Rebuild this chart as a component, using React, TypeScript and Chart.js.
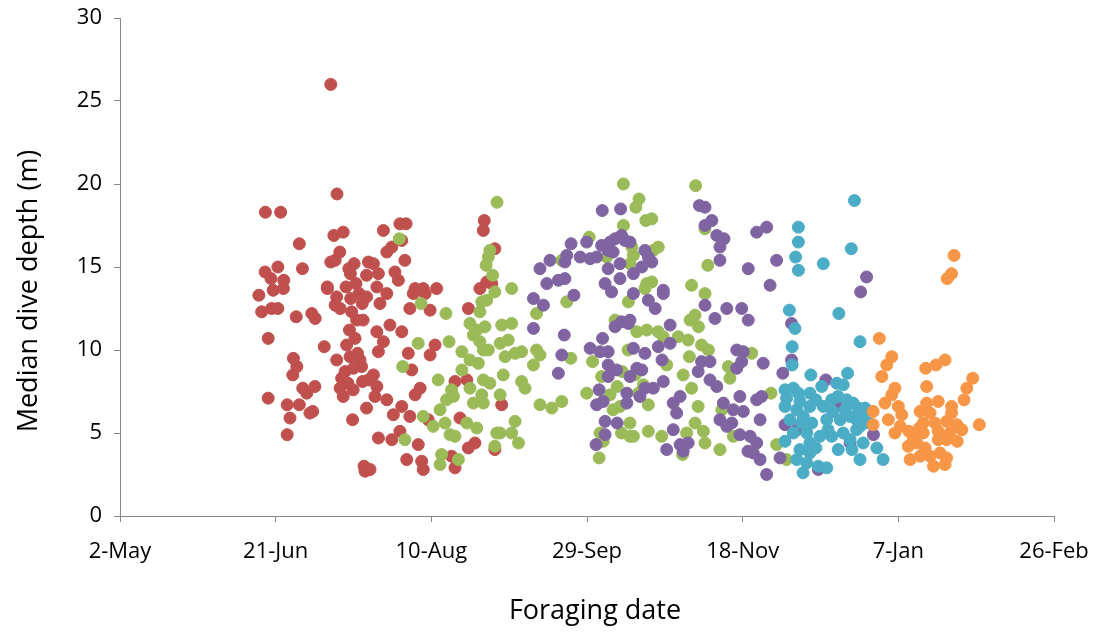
import React, { useEffect, useRef } from "react";
import { Chart, registerables } from "chart.js";

Chart.register(...registerables);

// x = days since 2-May, y = median dive depth (m)
const xTickLabels = ["2-May", "21-Jun", "10-Aug", "29-Sep", "18-Nov", "7-Jan", "26-Feb"];
const xTickStep = 50;
const yMin = 0;
const yMax = 30;
const yStep = 5;
const xTitle = "Foraging date";
const yTitle = "Median dive depth (m)";

const redSeries: [number, number][] = [
  [67.7, 26.0], [69.7, 19.4], [46.7, 18.3], [51.6, 18.3], [57.6, 16.4], [68.7, 16.9], [71.7, 17.1], [70.6, 15.9],
  [67.7, 15.3], [69.1, 15.4], [46.6, 14.7], [50.7, 15.0], [58.6, 14.9], [48.5, 14.3], [52.6, 14.2], [66.6, 13.8],
  [79.8, 15.3], [79.2, 14.5], [44.6, 13.3], [49.2, 13.6], [52.5, 13.7], [45.5, 12.3], [48.7, 12.5], [50.7, 12.5],
  [56.6, 12.0], [61.6, 12.2], [62.7, 11.9], [66.6, 13.7], [69.6, 13.2], [69.1, 12.7], [70.7, 12.5], [74.4, 12.3],
  [76.0, 11.8], [78.1, 11.8], [79.2, 13.2], [47.6, 10.7], [65.6, 10.2], [69.6, 9.4], [73.7, 11.2], [75.5, 10.7],
  [72.8, 10.3], [73.9, 9.6], [77.1, 9.4], [77.6, 9.0], [55.7, 9.5], [56.8, 9.0], [55.5, 8.5], [72.3, 8.7],
  [71.2, 8.3], [70.7, 7.7], [74.9, 7.6], [71.7, 7.2], [79.8, 8.2], [58.7, 7.7], [60.0, 7.4], [62.6, 7.8],
  [47.6, 7.1], [53.7, 6.7], [57.6, 6.7], [54.6, 5.9], [61.0, 6.2], [61.9, 6.3], [53.7, 4.9], [74.7, 5.8],
  [79.2, 6.5], [78.4, 3.0], [78.7, 2.7], [84.6, 17.2], [89.9, 17.6], [91.9, 17.6], [90.5, 16.6], [87.3, 16.2],
  [85.7, 15.9], [91.5, 15.4], [117.0, 17.8], [116.7, 17.2], [120.4, 16.1], [117.8, 14.1], [81.4, 15.2], [83.0, 14.6],
  [88.3, 14.7], [89.4, 14.2], [94.8, 13.7], [97.4, 13.7], [101.7, 13.7], [115.6, 13.7], [82.5, 13.8], [85.7, 13.4],
  [83.5, 12.8], [94.2, 13.4], [98.0, 13.4], [93.1, 12.5], [99.6, 12.4], [111.9, 12.5], [119.4, 14.0], [82.5, 11.1],
  [86.7, 11.5], [90.5, 11.1], [84.6, 10.5], [83.0, 9.9], [101.2, 10.3], [99.6, 9.7], [92.6, 9.8], [93.7, 8.8],
  [107.6, 8.1], [111.4, 8.2], [81.4, 8.5], [82.5, 7.8], [96.4, 7.7], [94.8, 7.3], [81.9, 7.2], [85.7, 7.0],
  [90.5, 6.6], [87.8, 6.1], [93.1, 6.0], [99.0, 5.8], [109.2, 5.9], [83.0, 4.7], [87.3, 4.6], [89.9, 5.1],
  [95.8, 4.3], [92.1, 3.4], [96.9, 3.3], [97.4, 2.8], [106.5, 3.6], [107.6, 2.9], [111.9, 4.1], [114.0, 4.4],
  [120.4, 4.0], [80.3, 2.8], [122.6, 6.7], [74.0, 14.6], [75.8, 14.0], [72.6, 13.8], [76.8, 13.4], [73.5, 14.9],
  [75.2, 15.2], [77.8, 12.8], [74.1, 13.1], [76.3, 9.8], [75.0, 8.9], [77.9, 8.1], [73.2, 8.0],
];

const greenSeries: [number, number][] = [
  [121.1, 18.9], [89.7, 16.7], [118.8, 16.0], [118.3, 15.6], [117.6, 15.1], [119.7, 14.5], [96.7, 12.8], [104.7, 12.2],
  [116.2, 12.9], [117.8, 13.0], [120.4, 13.5], [115.6, 12.3], [95.8, 10.4], [105.7, 10.5], [112.4, 11.6], [114.6, 11.2],
  [117.2, 11.4], [113.5, 10.9], [109.8, 9.9], [116.7, 10.0], [115.6, 10.5], [118.3, 10.0], [112.4, 9.4], [115.1, 9.2],
  [109.8, 8.8], [90.8, 9.0], [102.2, 8.2], [116.7, 8.2], [118.8, 8.0], [106.5, 7.6], [104.9, 7.0], [107.1, 7.2],
  [112.4, 7.7], [113.5, 6.8], [116.7, 6.8], [116.2, 7.3], [97.4, 6.0], [102.8, 6.4], [100.6, 5.4], [104.4, 5.6],
  [111.4, 5.6], [114.6, 5.3], [106.0, 4.9], [107.6, 4.8], [91.5, 4.6], [103.3, 3.7], [102.8, 3.1], [108.7, 3.4],
  [121.0, 5.0], [120.4, 4.2], [161.7, 20.0], [161.7, 17.5], [150.7, 16.8], [141.9, 15.4], [156.3, 15.6], [125.8, 13.7],
  [133.8, 12.2], [143.5, 12.9], [163.3, 12.9], [125.8, 11.6], [122.6, 11.5], [124.7, 10.6], [122.1, 10.4], [123.7, 9.6],
  [126.9, 9.8], [129.0, 9.9], [133.8, 10.0], [134.9, 9.7], [132.8, 9.1], [144.8, 9.5], [151.8, 9.3], [154.7, 8.4],
  [123.1, 8.5], [129.0, 8.1], [130.1, 7.7], [149.9, 7.4], [159.7, 7.8], [134.9, 6.7], [138.7, 6.5], [141.9, 6.9],
  [158.4, 6.4], [160.6, 6.6], [122.1, 7.3], [126.9, 5.7], [125.8, 5.0], [128.0, 4.4], [122.1, 5.0], [154.2, 5.0],
  [155.2, 4.5], [161.1, 5.0], [163.8, 4.8], [153.9, 3.5], [184.9, 19.9], [166.7, 19.1], [165.7, 18.6], [168.9, 17.8],
  [170.8, 17.9], [187.9, 17.3], [164.4, 16.2], [164.9, 15.7], [163.8, 15.2], [172.9, 16.2], [171.3, 16.0], [188.8, 15.1],
  [183.6, 13.9], [169.2, 14.0], [170.8, 14.1], [168.6, 13.7], [187.9, 13.4], [184.7, 12.1], [185.8, 11.4], [183.1, 11.8],
  [166.0, 11.1], [169.2, 11.2], [172.9, 11.1], [174.5, 10.8], [179.3, 10.8], [182.5, 10.6], [186.8, 10.3], [189.0, 10.0],
  [182.9, 9.6], [175.6, 9.1], [195.4, 9.0], [195.9, 8.3], [202.9, 9.8], [180.9, 8.5], [183.6, 7.7], [168.1, 7.9],
  [166.5, 7.4], [169.7, 6.7], [185.7, 6.6], [193.3, 6.4], [163.8, 5.6], [164.9, 4.8], [169.7, 5.1], [174.0, 4.8],
  [182.0, 5.0], [184.7, 5.6], [187.4, 5.1], [187.9, 4.4], [180.7, 3.7], [192.7, 4.0], [197.0, 4.8], [209.1, 7.4],
  [214.1, 3.4], [210.9, 4.3], [159.0, 11.8], [163.2, 10.0], [161.3, 8.7], [157.4, 7.3], [165.4, 8.5],
];

const purpleSeries: [number, number][] = [
  [154.9, 18.4], [160.8, 18.5], [144.9, 16.4], [149.9, 16.5], [154.7, 16.3], [157.4, 16.5], [159.0, 16.7], [161.1, 16.9],
  [162.2, 16.6], [143.5, 15.7], [147.8, 15.6], [151.0, 15.5], [153.1, 15.6], [138.1, 15.4], [134.9, 14.9], [142.9, 15.3],
  [156.8, 16.0], [158.4, 15.9], [160.6, 15.2], [156.8, 14.9], [137.1, 14.0], [140.8, 14.2], [142.9, 14.3], [155.8, 14.0],
  [160.6, 14.3], [132.8, 13.1], [136.0, 12.7], [145.8, 13.3], [157.9, 13.5], [132.8, 11.3], [142.7, 10.9], [159.0, 11.4],
  [161.1, 11.7], [163.3, 11.6], [141.9, 9.7], [140.8, 8.6], [151.0, 10.1], [154.2, 9.9], [156.8, 9.9], [155.0, 10.7],
  [156.8, 9.1], [159.5, 8.8], [156.8, 8.4], [153.9, 7.6], [153.1, 6.7], [155.2, 6.9], [162.8, 7.4], [162.8, 6.8],
  [155.8, 5.7], [159.7, 5.6], [155.8, 4.9], [152.9, 4.3], [186.1, 18.7], [187.9, 18.6], [190.1, 17.8], [187.9, 17.5],
  [191.7, 16.9], [194.0, 16.7], [192.7, 16.2], [204.5, 17.1], [163.8, 16.5], [168.6, 16.0], [169.7, 15.6], [170.8, 15.3],
  [167.6, 15.0], [164.9, 14.6], [192.7, 15.4], [201.8, 14.9], [174.5, 13.6], [164.9, 13.4], [169.7, 13.0], [171.9, 12.5],
  [174.5, 13.4], [187.9, 12.7], [194.9, 12.5], [191.1, 11.9], [199.7, 12.5], [201.8, 11.8], [176.7, 11.5], [163.8, 11.8],
  [164.9, 10.1], [168.6, 9.8], [172.9, 10.2], [176.7, 10.4], [174.1, 9.4], [186.8, 9.3], [189.5, 9.3], [185.7, 8.7],
  [198.1, 10.0], [200.2, 9.9], [198.1, 8.9], [199.7, 9.3], [166.0, 8.9], [167.6, 8.8], [163.8, 8.4], [189.5, 8.2],
  [191.7, 7.8], [168.6, 7.7], [171.3, 7.7], [174.5, 8.1], [167.0, 7.2], [179.9, 7.2], [177.7, 6.8], [178.8, 6.2],
  [193.8, 6.8], [199.1, 7.2], [200.2, 6.3], [197.0, 6.4], [204.5, 7.0], [192.7, 5.8], [194.9, 5.4], [196.5, 5.6],
  [199.1, 4.9], [202.4, 4.8], [204.5, 4.4], [177.7, 5.2], [175.6, 4.0], [179.9, 4.3], [182.5, 4.4], [180.9, 3.9],
  [203.4, 3.8], [207.7, 17.4], [210.9, 15.4], [239.8, 14.4], [208.8, 13.9], [237.9, 13.5], [215.7, 11.6], [215.7, 9.4],
  [206.6, 9.2], [212.9, 8.6], [226.7, 8.2], [206.1, 7.2], [213.6, 5.5], [217.4, 5.2], [212.0, 3.5], [207.7, 2.5],
  [205.6, 3.4], [224.3, 2.8], [242.0, 4.9], [230.2, 6.6], [234.5, 4.4], [205.6, 5.8], [201.7, 3.9],
];

const cyanSeries: [number, number][] = [
  [235.9, 19.0], [217.9, 17.4], [217.9, 16.5], [217.0, 15.6], [217.9, 14.8], [225.9, 15.2], [234.9, 16.1], [215.0, 12.4],
  [230.9, 12.2], [216.8, 11.3], [237.7, 10.5], [215.9, 10.2], [215.9, 9.1], [221.9, 8.5], [233.7, 8.6], [213.6, 7.6],
  [216.3, 7.7], [217.9, 7.4], [221.6, 7.4], [225.4, 7.8], [230.2, 8.0], [232.3, 7.9], [214.1, 7.1], [213.6, 6.6],
  [217.4, 6.4], [219.5, 6.0], [221.6, 6.6], [225.9, 6.6], [228.6, 7.0], [233.4, 7.0], [235.5, 6.8], [237.2, 6.5],
  [239.3, 6.5], [218.9, 5.6], [222.2, 5.6], [227.0, 5.8], [231.3, 5.8], [234.5, 6.0], [236.6, 5.8], [237.7, 5.4],
  [216.3, 5.0], [213.6, 4.5], [220.6, 5.0], [221.6, 4.4], [224.8, 4.8], [228.6, 4.8], [232.3, 5.0], [234.5, 4.6],
  [236.6, 5.2], [218.4, 4.0], [221.6, 3.8], [217.4, 3.4], [220.6, 3.2], [219.4, 2.6], [224.3, 3.0], [227.0, 2.9],
  [230.7, 4.0], [235.1, 4.0], [237.7, 3.4], [238.7, 4.4], [243.1, 4.1], [245.1, 3.4], [238.7, 6.1], [240.6, 5.6],
  [223.5, 7.0], [230.6, 7.2], [227.4, 5.2], [232.9, 6.4], [215.2, 5.8], [218.4, 6.9], [228.9, 6.3], [223.5, 4.1],
];

const orangeSeries: [number, number][] = [
  [267.9, 15.7], [267.1, 14.6], [265.7, 14.3], [243.9, 10.7], [247.9, 9.6], [246.3, 9.1], [244.7, 8.4], [258.8, 8.9],
  [262.1, 9.1], [265.0, 9.4], [273.9, 8.3], [272.0, 7.7], [271.1, 7.0], [259.1, 7.8], [248.9, 7.7], [247.9, 7.3],
  [245.7, 6.8], [250.0, 6.6], [251.1, 6.1], [259.1, 6.8], [262.8, 6.9], [267.1, 6.6], [267.1, 6.2], [257.0, 6.3],
  [260.2, 6.2], [246.8, 5.8], [250.6, 5.4], [248.9, 5.0], [258.0, 5.6], [261.8, 5.6], [265.5, 5.7], [268.8, 5.5],
  [270.4, 5.2], [276.0, 5.5], [258.0, 5.0], [262.8, 5.1], [266.6, 5.0], [254.8, 4.7], [253.2, 4.2], [255.9, 4.4],
  [262.8, 4.6], [265.5, 4.6], [268.9, 4.5], [253.8, 3.4], [257.0, 3.6], [260.2, 3.6], [263.4, 3.8], [265.5, 3.5],
  [261.3, 3.0], [265.0, 3.1], [241.9, 6.3], [241.9, 5.5], [253.4, 5.1], [256.8, 5.3], [258.6, 4.1],
];

const seriesColors = ["#C0504D", "#9BBB59", "#8064A2", "#4BACC6", "#F79646"];
const axisColor = "#868686";
const textColor = "#000000";
const fontFamily = "'Open Sans', sans-serif";

const axisTitlesPlugin = {
  id: "axisTitlesCustom",
  afterDraw(chart: any) {
    const { ctx, chartArea } = chart;
    ctx.save();
    ctx.fillStyle = textColor;
    ctx.font = `27px ${fontFamily}`;
    ctx.textAlign = "center";
    ctx.textBaseline = "middle";
    ctx.fillText(xTitle, (chartArea.left + chartArea.right) / 2 + 8, 611);
    ctx.translate(29, (chartArea.top + chartArea.bottom) / 2 + 24);
    ctx.rotate(-Math.PI / 2);
    ctx.fillText(yTitle, 0, 0);
    ctx.restore();
  },
};

export default function App() {
  const canvasRef = useRef<HTMLCanvasElement | null>(null);

  useEffect(() => {
    const canvas = canvasRef.current;
    if (!canvas) return;
    const allSeries = [redSeries, greenSeries, purpleSeries, cyanSeries, orangeSeries];
    const datasets = allSeries.map((s, i) => ({
      label: `Series ${i + 1}`,
      data: s.map(([x, y]) => ({ x, y })),
      backgroundColor: seriesColors[i],
      borderColor: seriesColors[i],
      borderWidth: 1,
      pointRadius: 6,
      pointHoverRadius: 6,
      order: allSeries.length - i,
    }));

    const chart = new Chart(canvas, {
      type: "scatter",
      data: { datasets },
      plugins: [axisTitlesPlugin],
      options: {
        animation: false,
        responsive: false,
        maintainAspectRatio: false,
        layout: { padding: { top: 18, right: 45, left: 0, bottom: 0 } },
        plugins: { legend: { display: false }, tooltip: { enabled: false } },
        scales: {
          x: {
            type: "linear",
            min: 0,
            max: (xTickLabels.length - 1) * xTickStep,
            afterFit: (scale: any) => {
              scale.height = 116;
              scale.paddingLeft = 0;
              scale.paddingRight = 0;
            },
            ticks: {
              stepSize: xTickStep,
              color: textColor,
              font: { family: fontFamily, size: 22 },
              padding: 17,
              maxRotation: 0,
              callback: (v: any) => xTickLabels[Math.round(Number(v) / xTickStep)] ?? "",
            },
            grid: { drawOnChartArea: false, drawTicks: true, tickLength: 6, color: axisColor },
            border: { color: axisColor, width: 1 },
          },
          y: {
            type: "linear",
            min: yMin,
            max: yMax,
            afterFit: (scale: any) => {
              scale.width = 120;
              scale.paddingTop = 0;
              scale.paddingBottom = 0;
            },
            ticks: {
              stepSize: yStep,
              color: textColor,
              font: { family: fontFamily, size: 22 },
              padding: 12,
            },
            grid: { drawOnChartArea: false, drawTicks: true, tickLength: 6, color: axisColor },
            border: { color: axisColor, width: 1 },
          },
        },
      },
    });
    return () => chart.destroy();
  }, []);

  return (
    <div style={{ position: "fixed", left: 0, top: 0, width: 1099, height: 632, background: "#ffffff" }}>
      <canvas ref={canvasRef} width={1099} height={632} style={{ display: "block" }} />
    </div>
  );
}
